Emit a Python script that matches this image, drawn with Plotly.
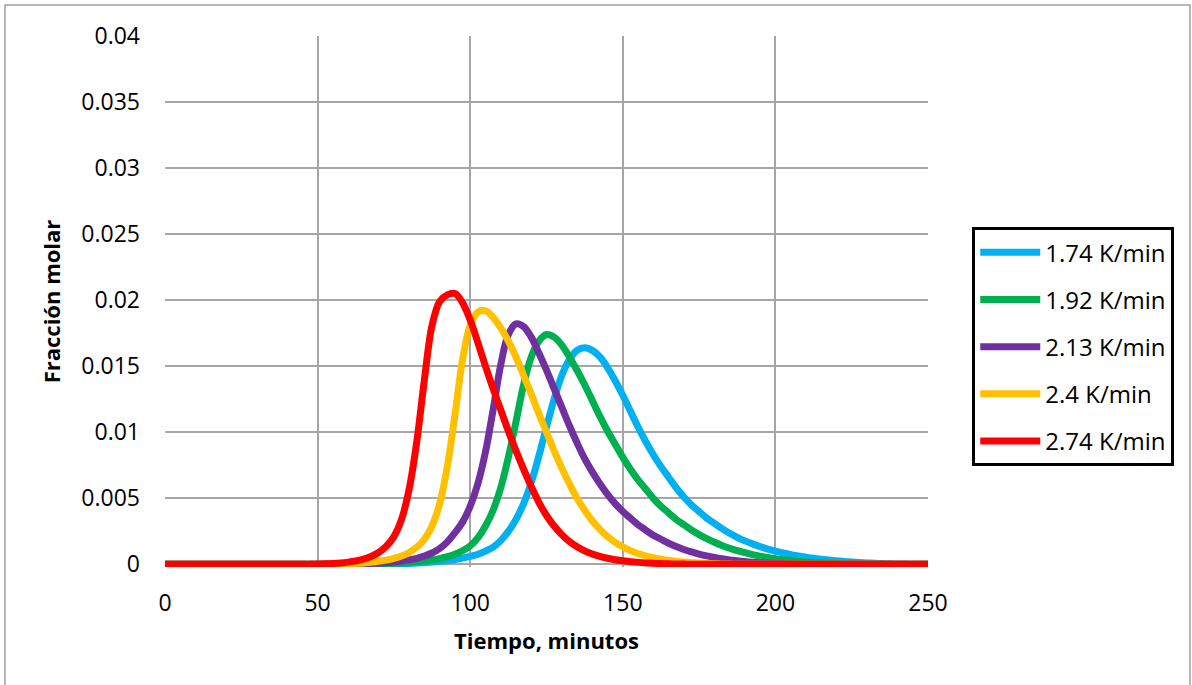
import plotly.graph_objects as go

# Tiempo (min), muestreado cada 2.5 minutos de 0 a 250
tiempo = [i * 2.5 for i in range(101)]

rate_labels = ["1.74 K/min", "1.92 K/min", "2.13 K/min", "2.4 K/min", "2.74 K/min"]
line_colors = ["#00B0F0", "#00B050", "#7030A0", "#FFC000", "#FF0000"]

# Fracción molar; cada fila cubre 25 minutos (10 muestras)
frac_174 = [
    0, 0, 0, 0, 0, 0, 0, 0, 0, 0,                                                        # 0-22.5
    0, 0, 0, 0, 0, 0, 0, 0, 0, 0,                                                        # 25-47.5
    0, 0, 0, 0, 0, 0, 0, 0, 0, 0.00002,                                                  # 50-72.5
    0.00003, 0.00005, 0.00007, 0.0001, 0.00013, 0.00017, 0.00022, 0.00029, 0.00037, 0.00047,  # 75-97.5
    0.0006, 0.00077, 0.001, 0.0013, 0.0018, 0.0025, 0.0034, 0.0046, 0.0062, 0.0082,      # 100-122.5
    0.0104, 0.0125, 0.0143, 0.0155, 0.0162, 0.0164, 0.0162, 0.0157, 0.0149, 0.0139,      # 125-147.5
    0.0128, 0.0116, 0.0104, 0.0093, 0.0083, 0.0074, 0.0066, 0.0058, 0.0051, 0.0045,      # 150-172.5
    0.0040, 0.0035, 0.0031, 0.0027, 0.00235, 0.00205, 0.00178, 0.00155, 0.00134, 0.00116,  # 175-197.5
    0.001, 0.00086, 0.00074, 0.00063, 0.00054, 0.00046, 0.00039, 0.00033, 0.00027, 0.00022,  # 200-222.5
    0.00018, 0.00014, 0.00011, 0.00008, 0.00006, 0.00004, 0.00003, 0.00002, 0.00001, 0,  # 225-247.5
    0,                                                                                   # 250
]
frac_192 = [
    0, 0, 0, 0, 0, 0, 0, 0, 0, 0,
    0, 0, 0, 0, 0, 0, 0, 0, 0, 0,
    0, 0, 0, 0, 0, 0, 0, 0.00002, 0.00003, 0.00005,
    0.00007, 0.0001, 0.00014, 0.00019, 0.00025, 0.00033, 0.00044, 0.00058, 0.00077, 0.00103,
    0.0014, 0.0020, 0.0029, 0.0041, 0.0058, 0.0081, 0.0108, 0.0136, 0.0157, 0.0169,
    0.0174, 0.0172, 0.0166, 0.0157, 0.0147, 0.0136, 0.0124, 0.0112, 0.0101, 0.0091,
    0.0081, 0.0072, 0.0064, 0.0057, 0.0050, 0.0044, 0.0039, 0.0034, 0.0030, 0.0026,
    0.00225, 0.00194, 0.00167, 0.00143, 0.00122, 0.00104, 0.00088, 0.00074, 0.00062, 0.00052,
    0.00043, 0.00035, 0.00028, 0.00022, 0.00017, 0.00013, 0.0001, 0.00007, 0.00005, 0.00003,
    0.00002, 0.00001, 0, 0, 0, 0, 0, 0, 0, 0,
    0,
]
frac_213 = [
    0, 0, 0, 0, 0, 0, 0, 0, 0, 0,
    0, 0, 0, 0, 0, 0, 0, 0, 0, 0,
    0, 0, 0, 0, 0, 0.00002, 0.00004, 0.00006, 0.00009, 0.00013,
    0.00018, 0.00025, 0.00034, 0.00046, 0.00063, 0.00086, 0.0012, 0.0017, 0.0024, 0.0032,
    0.0044, 0.0061, 0.0085, 0.0117, 0.0151, 0.0174, 0.0182, 0.0180, 0.0172, 0.0160,
    0.0147, 0.0133, 0.0119, 0.0105, 0.0092, 0.0080, 0.0070, 0.0061, 0.0053, 0.0046,
    0.0040, 0.0035, 0.0030, 0.0026, 0.0022, 0.0019, 0.0016, 0.00135, 0.00113, 0.00094,
    0.00078, 0.00064, 0.00052, 0.00042, 0.00034, 0.00027, 0.00021, 0.00016, 0.00012, 0.00009,
    0.00007, 0.00005, 0.00003, 0.00002, 0.00001, 0, 0, 0, 0, 0,
    0, 0, 0, 0, 0, 0, 0, 0, 0, 0,
    0,
]
frac_240 = [
    0, 0, 0, 0, 0, 0, 0, 0, 0, 0,
    0, 0, 0, 0, 0, 0, 0, 0, 0, 0,
    0, 0, 0, 0.00002, 0.00004, 0.00007, 0.00011, 0.00016, 0.00023, 0.00032,
    0.00045, 0.00063, 0.0009, 0.0013, 0.0019, 0.0029, 0.0046, 0.0074, 0.0113, 0.0155,
    0.0181, 0.0191, 0.0192, 0.0187, 0.0179, 0.0169, 0.0157, 0.0143, 0.0129, 0.0114,
    0.0100, 0.0086, 0.0073, 0.0061, 0.0050, 0.0041, 0.0033, 0.00265, 0.0021, 0.00167,
    0.00132, 0.00104, 0.00082, 0.00064, 0.0005, 0.00039, 0.0003, 0.00023, 0.00017, 0.00013,
    0.0001, 0.00007, 0.00005, 0.00003, 0.00002, 0.00001, 0, 0, 0, 0,
    0, 0, 0, 0, 0, 0, 0, 0, 0, 0,
    0, 0, 0, 0, 0, 0, 0, 0, 0, 0,
    0,
]
frac_274 = [
    0, 0, 0, 0, 0, 0, 0, 0, 0, 0,
    0, 0, 0, 0, 0, 0, 0, 0, 0, 0,
    0.00002, 0.00004, 0.00007, 0.00011, 0.00017, 0.00026, 0.0004, 0.0006, 0.0009, 0.00137,
    0.0021, 0.0034, 0.0057, 0.0093, 0.0140, 0.0181, 0.0199, 0.0204, 0.0205, 0.0198,
    0.0185, 0.0168, 0.0150, 0.0133, 0.0117, 0.0101, 0.0086, 0.0072, 0.0059, 0.0047,
    0.0037, 0.0029, 0.00225, 0.00173, 0.00133, 0.00102, 0.00078, 0.0006, 0.00046, 0.00035,
    0.00027, 0.0002, 0.00015, 0.00011, 0.00008, 0.00006, 0.00004, 0.00003, 0.00002, 0.00001,
    0, 0, 0, 0, 0, 0, 0, 0, 0, 0,
    0, 0, 0, 0, 0, 0, 0, 0, 0, 0,
    0, 0, 0, 0, 0, 0, 0, 0, 0, 0,
    0,
]

series = [frac_174, frac_192, frac_213, frac_240, frac_274]

x_ticks = [0, 50, 100, 150, 200, 250]
y_ticks = [0, 0.005, 0.01, 0.015, 0.02, 0.025, 0.03, 0.035, 0.04]
y_tick_text = ["0", "0.005", "0.01", "0.015", "0.02", "0.025", "0.03", "0.035", "0.04"]

FONT = "Open Sans, Noto Sans, sans-serif"
GRID = "#A6A6A6"

fig = go.Figure()
for i, (name, color, vals) in enumerate(zip(rate_labels, line_colors, series)):
    fig.add_trace(go.Scatter(
        x=tiempo, y=vals, name=name, mode="lines",
        line=dict(color=color, width=7, shape="spline", smoothing=1.0),
        legendgroup=f"g{i}",
    ))

fig.update_layout(
    width=1192, height=685,
    margin=dict(l=165, r=264, t=36, b=118),
    paper_bgcolor="white", plot_bgcolor="white",
    font=dict(family=FONT, size=23, color="black"),
    showlegend=True,
    legend=dict(
        x=1.058, xanchor="left", xref="paper",
        y=0.415, yanchor="middle",
        bordercolor="black", borderwidth=3,
        bgcolor="white",
        font=dict(family=FONT, size=24, color="black"),
        tracegroupgap=13,
        itemwidth=60,
    ),
)

fig.update_xaxes(
    range=[0, 250], tickvals=x_ticks,
    showgrid=True, gridcolor=GRID, gridwidth=1.5,
    zeroline=False, showline=False,
    ticks="", ticklabelstandoff=20,
    tickfont=dict(family=FONT, size=23),
    title=dict(text="<b>Tiempo, minutos</b>", font=dict(family=FONT, size=22), standoff=16),
)
fig.update_yaxes(
    range=[-0.0002, 0.04], tickvals=y_ticks, ticktext=y_tick_text,
    showgrid=True, gridcolor=GRID, gridwidth=1.5,
    zeroline=False, showline=False,
    ticks="", ticklabelstandoff=24,
    tickfont=dict(family=FONT, size=23),
    title=dict(text="<b>Fracción molar</b>", font=dict(family=FONT, size=22), standoff=14),
)

# Thin frame around the whole chart
fig.add_shape(type="rect", xref="paper", yref="paper",
              x0=-160 / 763, x1=1025 / 763, y0=-0.3, y1=1 + 31 / 530,
              line=dict(color="#A0A0A0", width=1.5), fillcolor="rgba(0,0,0,0)",
              layer="below")

fig.write_html("out.html")
